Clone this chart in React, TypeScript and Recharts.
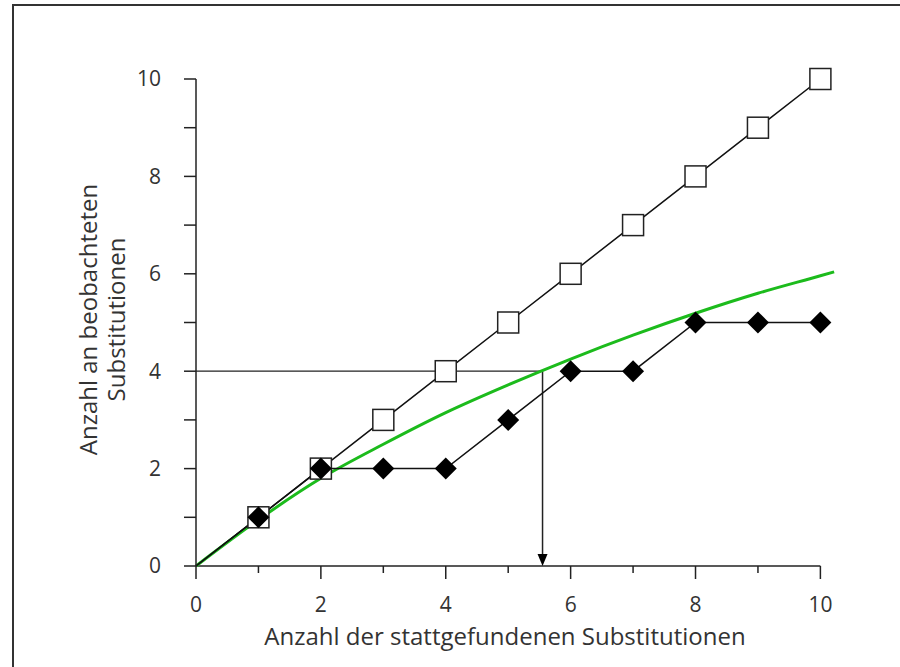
import React from "react";
import { LineChart, Line, XAxis, YAxis, ReferenceLine } from "recharts";

// actual substitutions (x) vs. expected / observed substitutions
const substitutions = [0, 1, 2, 3, 4, 5, 6, 7, 8, 9, 10];
const expected = [0, 1, 2, 3, 4, 5, 6, 7, 8, 9, 10];
const observed = [0, 1, 2, 2, 2, 3, 4, 4, 5, 5, 5];

// green saturation curve
const curveX = [0, 1, 2, 3, 4, 5, 6, 7, 8, 9, 10, 10.22];
const curveY = [0, 0.95, 1.8, 2.5, 3.15, 3.72, 4.25, 4.74, 5.19, 5.6, 5.96, 6.04];

const xTicks = [0, 1, 2, 3, 4, 5, 6, 7, 8, 9, 10];
const yTicks = [0, 1, 2, 3, 4, 5, 6, 7, 8, 9, 10];

// read-off point where the curve reaches 4 observed substitutions
const readX = 5.55;
const readY = 4;

const data = substitutions.map((x, i) => ({ x, sq: expected[i], dia: observed[i] }));
const curve = curveX.map((x, i) => ({ x, g: curveY[i] }));

const FONT = "'Open Sans', 'DejaVu Sans', sans-serif";
const TEXT = "#333";

const SquareDot = (props: any) => {
  const { cx, cy, index } = props;
  if (index === 0 || cx == null) return null;
  return <rect x={cx - 10.5} y={cy - 10.5} width={21} height={21} fill="#fff" stroke="#222" strokeWidth={1.5} />;
};

const DiamondDot = (props: any) => {
  const { cx, cy, index } = props;
  if (index === 0 || cx == null) return null;
  const r = 11;
  return <polygon points={`${cx},${cy - r} ${cx + r},${cy} ${cx},${cy + r} ${cx - r},${cy}`} fill="#000" />;
};

const XTick = ({ x, y, payload }: any) => {
  const major = payload.value % 2 === 0;
  return (
    <g>
      <line x1={x} y1={y} x2={x} y2={y + (major ? 13 : 7)} stroke="#222" strokeWidth={1.5} />
      {major && (
        <text x={x} y={y + 39} dy="0.35em" textAnchor="middle" fontFamily={FONT} fontSize={21} fill={TEXT}>
          {payload.value}
        </text>
      )}
    </g>
  );
};

const YTick = ({ x, y, payload }: any) => {
  const major = payload.value % 2 === 0;
  return (
    <g>
      <line x1={x - 12} y1={y} x2={x} y2={y} stroke="#222" strokeWidth={1.5} />
      {major && (
        <text x={x - 35} y={y} dy="0.35em" textAnchor="end" fontFamily={FONT} fontSize={21} fill={TEXT}>
          {payload.value}
        </text>
      )}
    </g>
  );
};

const YLabel = ({ viewBox }: any) => {
  const cy = viewBox.y + viewBox.height / 2 - 3;
  return (
    <text
      transform={`translate(103, ${cy}) rotate(-90)`}
      textAnchor="middle"
      fontFamily={FONT}
      fontSize={24}
      fill={TEXT}
    >
      <tspan x={0} dy="-0.25em">Anzahl an beobachteten</tspan>
      <tspan x={0} dy="1.15em">Substitutionen</tspan>
    </text>
  );
};

const XLabel = ({ viewBox }: any) => (
  <text x={505} y={viewBox.y + 71} dy="0.35em" textAnchor="middle" fontFamily={FONT} fontSize={24} fill={TEXT}>
    Anzahl der stattgefundenen Substitutionen
  </text>
);

const Arrow = (props: any) => {
  const { x1, y1, x2, y2 } = props;
  return (
    <g>
      <line x1={x1} y1={y1} x2={x2} y2={y2 - 8} stroke="#222" strokeWidth={1.5} />
      <polygon points={`${x2 - 5},${y2 - 12} ${x2 + 5},${y2 - 12} ${x2},${y2}`} fill="#000" />
    </g>
  );
};

export default function App() {
  return (
    <div style={{ position: "absolute", left: 0, top: 0, width: 900, height: 667, overflow: "hidden", background: "#fff" }}>
      <div
        style={{
          position: "absolute",
          left: 12,
          top: 4,
          width: 1000,
          height: 1000,
          border: "2px solid #333",
        }}
      />
      <div style={{ position: "absolute", left: 0, top: 0 }}>
        <LineChart width={900} height={667} data={data} margin={{ top: 79, right: 64, left: 0, bottom: 0 }}>
          <XAxis
            type="number"
            dataKey="x"
            domain={[0, 10.25]}
            ticks={xTicks}
            axisLine={false}
            tickLine={false}
            tickSize={0}
            tickMargin={0}
            tick={<XTick />}
            height={101}
            label={<XLabel />}
          />
          <YAxis
            type="number"
            domain={[0, 10]}
            ticks={yTicks}
            width={196}
            axisLine={{ stroke: "#222", strokeWidth: 1.5 }}
            tickLine={false}
            tickSize={0}
            tickMargin={0}
            tick={<YTick />}
            label={<YLabel />}
          />
          <ReferenceLine segment={[{ x: 0, y: 0 }, { x: 10, y: 0 }]} stroke="#222" strokeWidth={1.5} />
          <ReferenceLine segment={[{ x: 0, y: readY }, { x: readX, y: readY }]} stroke="#222" strokeWidth={1.2} />
          <ReferenceLine segment={[{ x: readX, y: readY }, { x: readX, y: 0 }]} shape={<Arrow />} />
          <Line
            data={curve}
            dataKey="g"
            type="monotone"
            stroke="#1cbb1c"
            strokeWidth={3}
            dot={false}
            isAnimationActive={false}
          />
          <Line
            dataKey="sq"
            type="linear"
            stroke="#111"
            strokeWidth={1.5}
            dot={<SquareDot />}
            isAnimationActive={false}
          />
          <Line
            dataKey="dia"
            type="linear"
            stroke="#111"
            strokeWidth={1.5}
            dot={<DiamondDot />}
            isAnimationActive={false}
          />
        </LineChart>
      </div>
    </div>
  );
}
